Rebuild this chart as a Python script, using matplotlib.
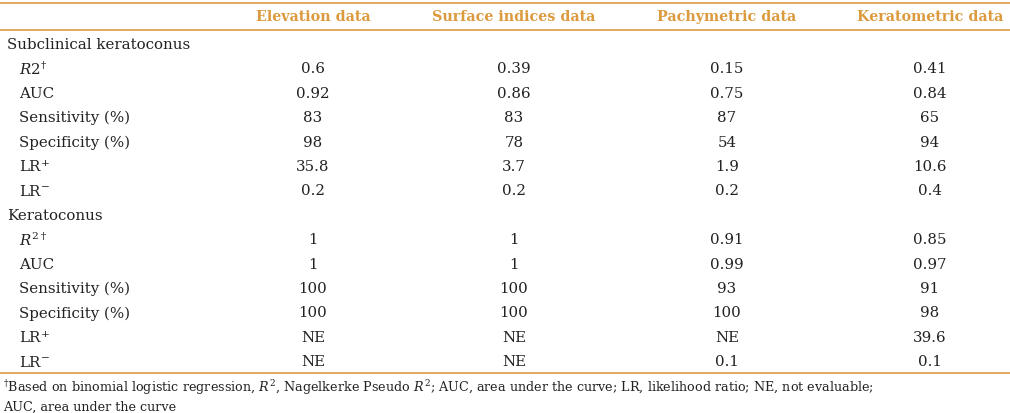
import matplotlib
matplotlib.use('Agg')
import matplotlib.pyplot as plt

# ============================================
# TABLE DATA
# ============================================

columns = ['Elevation data', 'Surface indices data', 'Pachymetric data', 'Keratometric data']
row_labels = [r'$\it{R}$2$^{\dagger}$', 'AUC', 'Sensitivity (%)', 'Specificity (%)',
              r'LR$^{+}$', r'LR$^{-}$']
row_labels_kc = [r'$\it{R}^{2\dagger}$', 'AUC', 'Sensitivity (%)', 'Specificity (%)',
                 r'LR$^{+}$', r'LR$^{-}$']

subclinical_elevation = ['0.6', '0.92', '83', '98', '35.8', '0.2']
subclinical_surface   = ['0.39', '0.86', '83', '78', '3.7', '0.2']
subclinical_pachy     = ['0.15', '0.75', '87', '54', '1.9', '0.2']
subclinical_kerato    = ['0.41', '0.84', '65', '94', '10.6', '0.4']

kc_elevation = ['1', '1', '100', '100', 'NE', 'NE']
kc_surface   = ['1', '1', '100', '100', 'NE', 'NE']
kc_pachy     = ['0.91', '0.99', '93', '100', 'NE', '0.1']
kc_kerato    = ['0.85', '0.97', '91', '98', '39.6', '0.1']

footnote = ('$^{\\dagger}$Based on binomial logistic regression, $\\it{R}^{2}$, Nagelkerke Pseudo $\\it{R}^{2}$; '
            'AUC, area under the curve; LR, likelihood ratio; NE, not evaluable;\nAUC, area under the curve')

# ============================================
# STYLE
# ============================================

plt.rcParams['font.family'] = 'DejaVu Serif'
plt.rcParams['mathtext.fontset'] = 'dejavuserif'
ORANGE = '#DC9A3E'
TEXT = '#222222'
FS = 10.8

fig = plt.figure(figsize=(10.1, 4.13), dpi=100)
ax = fig.add_axes([0, 0, 1, 1])
ax.set_xlim(0, 1010)
ax.set_ylim(413, 0)
ax.axis('off')

col_x = [313, 514, 727, 930]
row_h = 24.4

# rules
ax.plot([0, 1010], [3, 3], color=ORANGE, lw=1.2)
ax.plot([0, 1010], [30, 30], color=ORANGE, lw=1.2)
ax.plot([0, 1010], [373, 373], color=ORANGE, lw=1.2)

# header
for x, c in zip(col_x, columns):
    ax.text(x, 17, c, ha='center', va='center', fontsize=10.3, fontweight='bold', color=ORANGE)

sections = [
    ('Subclinical keratoconus', row_labels,
     [subclinical_elevation, subclinical_surface, subclinical_pachy, subclinical_kerato]),
    ('Keratoconus', row_labels_kc,
     [kc_elevation, kc_surface, kc_pachy, kc_kerato]),
]

y = 45
for title, labels, cols in sections:
    ax.text(7, y, title, ha='left', va='center', fontsize=FS, color=TEXT)
    y += row_h
    for i, lab in enumerate(labels):
        ax.text(19, y, lab, ha='left', va='center', fontsize=FS, color=TEXT)
        for x, vals in zip(col_x, cols):
            ax.text(x, y, vals[i], ha='center', va='center', fontsize=FS, color=TEXT)
        y += row_h

ax.text(3, 378, footnote, ha='left', va='top', fontsize=9.2, color=TEXT, linespacing=1.4)

plt.savefig('out.png', dpi=100)
plt.close()
